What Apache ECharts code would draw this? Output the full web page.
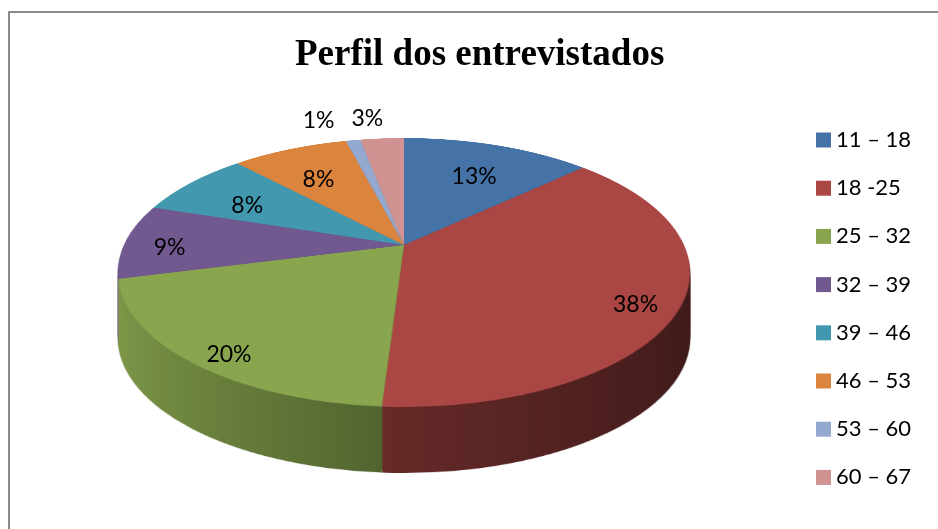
<!DOCTYPE html>
<html>
<head>
<meta charset="utf-8">
<script src="https://cdn.jsdelivr.net/npm/echarts@6/dist/echarts.min.js"></script>
<style>
html,body{margin:0;padding:0;background:#fff;}
#wrap{position:relative;width:938px;height:529px;overflow:hidden;}
.camada{position:absolute;left:104px;top:-55px;width:600px;height:600px;transform-origin:300px 300px;}
#main{position:absolute;left:0;top:0;width:938px;height:529px;}
</style>
</head>
<body>
<div id="wrap"><div id="main"></div></div>
<script>
var faixas = ['11 – 18', '18 -25', '25 – 32', '32 – 39', '39 – 46', '46 – 53', '53 – 60', '60 – 67'];
var percentuais = [13, 38, 20, 9, 8, 8, 1, 3];
var cores = ['#4572A7', '#AA4643', '#89A54E', '#71588F', '#4198AF', '#DB843D', '#93A9CF', '#D19392'];

// perspectiva da pizza (igual ao 3D do Excel)
var ANG = 62.6, PERSP = 1216, RAIO = 280, ESPESSURA = 66;
var CX = 404, CY = 245; // centro da pizza na tela
var cosA = Math.cos(ANG * Math.PI / 180), sinA = Math.sin(ANG * Math.PI / 180);

function escurecer(hex, f) {
	var n = parseInt(hex.slice(1), 16);
	var r = Math.round(((n >> 16) & 255) * f);
	var g = Math.round(((n >> 8) & 255) * f);
	var b = Math.round((n & 255) * f);
	return 'rgb(' + r + ',' + g + ',' + b + ')';
}

function lateral(i) {
	return new echarts.graphic.LinearGradient(20, 0, 580, 0, [
		{offset: 0, color: escurecer(cores[i], 0.92)},
		{offset: 0.5, color: escurecer(cores[i], 0.58)},
		{offset: 1, color: escurecer(cores[i], 0.36)}
	], true);
}

function novaCamada(desloc, lado) {
	var div = document.createElement('div');
	div.className = 'camada';
	div.style.transform = 'translateY(' + desloc + 'px) perspective(' + PERSP + 'px) rotateX(' + ANG + 'deg)';
	document.getElementById('wrap').insertBefore(div, document.getElementById('main'));
	var c = echarts.init(div);
	c.setOption({
		animation: false,
		series: [{
			type: 'pie',
			silent: true,
			startAngle: 90,
			clockwise: true,
			center: [300, 300],
			radius: RAIO,
			label: {show: false},
			labelLine: {show: false},
			itemStyle: {borderWidth: 0},
			data: faixas.map(function(nome, i) {
				return {name: nome, value: percentuais[i], itemStyle: {color: lado ? lateral(i) : cores[i]}};
			})
		}]
	});
}

// lateral (de baixo pra cima) e depois a tampa
for (var d = ESPESSURA; d > 0; d -= 2) {
	novaCamada(d, true);
}
novaCamada(0, false);

// titulo, legenda e rotulos
var chart = echarts.init(document.getElementById('main'));
chart.setOption({
	animation: false,
	title: {
		text: 'Perfil dos entrevistados',
		left: 295,
		top: 37,
		padding: 0,
		textStyle: {fontFamily: 'Liberation Serif', fontWeight: 'bold', fontSize: 37, color: '#000'}
	},
	graphic: [{
		type: 'rect',
		shape: {x: 9, y: 12, width: 940, height: 530},
		style: {fill: 'none', stroke: '#8a8a8a', lineWidth: 2},
		silent: true
	}],
	legend: {
		orient: 'vertical',
		left: 811,
		top: 123,
		itemWidth: 15,
		itemHeight: 15,
		itemGap: 24.2,
		icon: 'rect',
		textStyle: {fontFamily: 'Lato', fontSize: 22, color: '#000', lineHeight: 24},
		data: faixas.map(function(nome, i) {
			return {name: nome, itemStyle: {color: cores[i]}};
		})
	},
	series: [{
		type: 'pie',
		startAngle: 90,
		clockwise: true,
		center: [CX, CY],
		radius: RAIO,
		emphasis: {disabled: true},
		itemStyle: {color: 'rgba(0,0,0,0)', borderWidth: 0},
		labelLine: {show: false},
		label: {
			show: true,
			position: 'inside',
			fontFamily: 'Lato',
			fontSize: 23,
			color: '#000',
			formatter: function(p) { return Math.round(p.percent) + '%'; }
		},
		// leva o rotulo da pizza plana para a pizza em perspectiva
		labelLayout: function(params) {
			var r = params.labelRect;
			var ex = r.x + r.width / 2 - CX;
			var ey = r.y + r.height / 2 - CY;
			var fx, fy;
			if (percentuais[params.dataIndex] < 5) { // fatias pequenas: rotulo fora
				fx = 3.45; fy = 2.55;
			} else if (ey < -20) {
				fx = fy = 1.4;
			} else {
				fx = 1.65; fy = 1.75;
			}
			ex *= fx;
			ey *= fy;
			var s = 1 / (1 - ey * sinA / PERSP);
			return {x: CX + ex * s, y: CY + ey * cosA * s + 6, align: 'center', verticalAlign: 'middle'};
		},
		data: faixas.map(function(nome, i) {
			return {name: nome, value: percentuais[i]};
		})
	}]
});
</script>
</body>
</html>
